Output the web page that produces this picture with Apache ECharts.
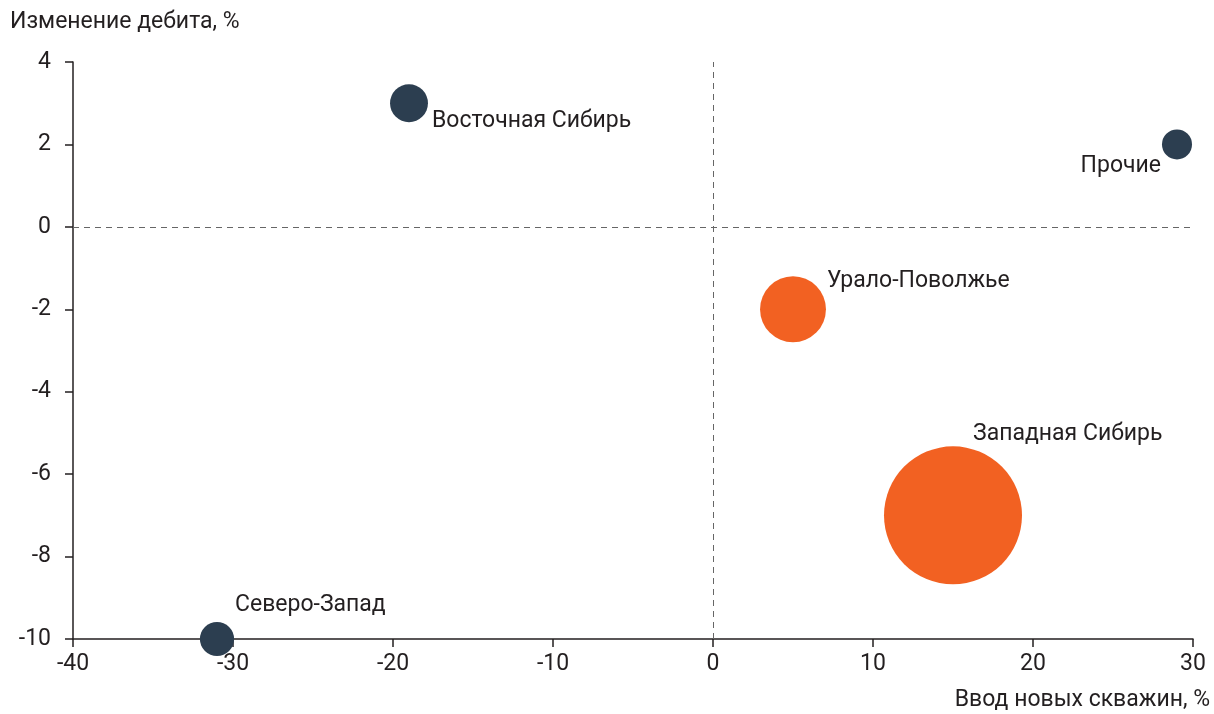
<!DOCTYPE html>
<html>
<head>
<meta charset="utf-8">
<script src="https://cdn.jsdelivr.net/npm/echarts@6/dist/echarts.min.js"></script>
<style>
  html, body { margin: 0; padding: 0; background: #fff; }
  #chart { width: 1214px; height: 714px; }
</style>
</head>
<body>
<div id="chart"></div>
<script>
// Regions: change in new wells commissioning (x) vs. change in well flow rate (y)
const regions = ['Восточная Сибирь', 'Прочие', 'Урало-Поволжье', 'Западная Сибирь', 'Северо-Запад'];
const wellsChange = [-19, 29, 5, 15, -31];
const flowChange = [3, 2, -2, -7, -10];
// Relative weight of each region (bubble area)
const weight = [4.3, 2.7, 13, 57, 3.5];
const groupColor = ['#2c3e50', '#2c3e50', '#f26122', '#f26122', '#2c3e50'];

const xTicks = { min: -40, max: 30, interval: 10 };
const yTicks = { min: -10, max: 4, interval: 2 };

const FONT = 'Roboto';
const FS = 23;
const TEXT = '#231f20';
const maxW = Math.max.apply(null, weight);
const sizeOf = w => 138 * Math.sqrt(w / maxW);

// label placement around each bubble: [dx, dy, align]
const labelPlace = [
  [23, 18, 'left'],
  [-16, 22, 'right'],
  [34, -28, 'left'],
  [20, -81, 'left'],
  [18, -34, 'left']
];

const data = regions.map((name, i) => ({
  name: name,
  value: [wellsChange[i], flowChange[i], weight[i]],
  symbolSize: sizeOf(weight[i]),
  itemStyle: { color: groupColor[i], opacity: 1 },
  label: {
    show: true,
    position: 'inside',
    offset: [labelPlace[i][0], labelPlace[i][1]],
    align: labelPlace[i][2],
    verticalAlign: 'middle',
    formatter: '{b}',
    color: TEXT,
    fontFamily: FONT,
    fontSize: FS
  }
}));

const chart = echarts.init(document.getElementById('chart'), null, { renderer: 'canvas' });
chart.setOption({
  animation: false,
  backgroundColor: '#ffffff',
  grid: { left: 73, right: 21, top: 62, bottom: 75, containLabel: false },
  xAxis: {
    type: 'value',
    min: xTicks.min, max: xTicks.max, interval: xTicks.interval,
    axisLine: { show: true, onZero: false, lineStyle: { color: TEXT, width: 1.5 } },
    axisTick: { show: true, length: 8, lineStyle: { color: TEXT, width: 1.5 } },
    axisLabel: { color: TEXT, fontFamily: FONT, fontSize: FS, margin: 14 },
    splitLine: { show: false }
  },
  yAxis: {
    type: 'value',
    min: yTicks.min, max: yTicks.max, interval: yTicks.interval,
    axisLine: { show: true, onZero: false, lineStyle: { color: TEXT, width: 1.5 } },
    axisTick: { show: true, length: 8, lineStyle: { color: TEXT, width: 1.5 } },
    axisLabel: { color: TEXT, fontFamily: FONT, fontSize: FS, margin: 22 },
    splitLine: { show: false }
  },
  graphic: [
    {
      type: 'text', left: 10, top: 11,
      style: { text: 'Изменение дебита, %', fill: TEXT, font: FS + 'px ' + FONT }
    },
    {
      type: 'text', right: 4, top: 689,
      style: { text: 'Ввод новых скважин, %', fill: TEXT, font: FS + 'px ' + FONT }
    }
  ],
  series: [{
    type: 'scatter',
    data: data,
    z: 3,
    markLine: {
      silent: true,
      symbol: 'none',
      label: { show: false },
      lineStyle: { color: '#666', type: [6, 5], width: 1 },
      data: [{ xAxis: 0 }, { yAxis: 0 }]
    }
  }]
});
</script>
</body>
</html>
